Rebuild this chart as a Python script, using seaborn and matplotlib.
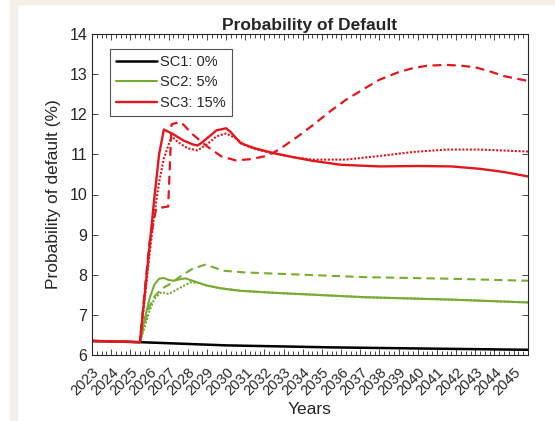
import numpy as np
import pandas as pd
import matplotlib
matplotlib.use("Agg")
import matplotlib.pyplot as plt
from matplotlib.ticker import MultipleLocator
from matplotlib.patches import Rectangle
import seaborn as sns

# ---- data (quarter index from 2023Q1, value in %) ----
black_q = [0, 10, 28, 50, 70, 91]
black_v = [6.35, 6.32, 6.24, 6.19, 6.16, 6.13]

g_solid_q = [0, 10, 11, 12, 13, 14, 15, 16, 17, 18, 19.5, 21, 24, 27, 31, 38, 57, 75, 91]
g_solid_v = [6.35, 6.32, 6.9, 7.4, 7.75, 7.9, 7.92, 7.87, 7.85, 7.88, 7.91, 7.85, 7.73, 7.66, 7.6, 7.55, 7.44, 7.38, 7.31]

g_dash_q = [0, 10, 11, 12, 13, 14.5, 16, 18.7, 21, 23.6, 25, 27.4, 31.6, 40, 57, 75, 91]
g_dash_v = [6.35, 6.32, 6.8, 7.2, 7.45, 7.65, 7.75, 7.98, 8.15, 8.25, 8.2, 8.1, 8.06, 8.02, 7.94, 7.9, 7.85]

g_dot_q = [0, 10, 11, 12, 13, 14.5, 16, 18, 20.5, 22, 24, 27, 31, 38, 57, 75, 91]
g_dot_v = [6.35, 6.32, 6.7, 7.1, 7.4, 7.57, 7.52, 7.65, 7.81, 7.8, 7.73, 7.66, 7.6, 7.55, 7.44, 7.38, 7.31]

r_solid_q = [0, 10, 11, 12, 13, 14, 15, 17, 19, 21, 22, 23, 24, 26, 28, 29, 31, 34, 38, 42, 46, 52, 60, 68, 75, 81, 86, 91]
r_solid_v = [6.35, 6.32, 7.5, 8.7, 9.9, 11.0, 11.62, 11.5, 11.35, 11.25, 11.22, 11.3, 11.4, 11.6, 11.65, 11.55,
             11.28, 11.15, 11.03, 10.93, 10.84, 10.74, 10.7, 10.71, 10.7, 10.64, 10.56, 10.45]

r_dash_q = [0, 10, 11, 12, 13.4, 15.9, 16.6, 18.4, 19, 21, 24, 27, 30, 33, 36, 38, 40, 43, 46, 50, 53, 57, 60,
            64, 67, 70, 74, 77, 80, 83, 86, 91]
r_dash_v = [6.35, 6.32, 7.6, 8.8, 9.65, 9.7, 11.75, 11.81, 11.75, 11.5, 11.2, 10.95, 10.85, 10.88, 10.95, 11.05,
            11.2, 11.45, 11.72, 12.1, 12.36, 12.65, 12.86, 13.05, 13.15, 13.21, 13.23, 13.21, 13.17, 13.07, 12.95, 12.83]

r_dot_q = [0, 10, 11, 12, 13, 14, 15, 16.6, 18, 20, 22, 24, 26, 28, 30, 32, 35, 38, 42, 46, 53, 60, 67, 74, 81, 91]
r_dot_v = [6.35, 6.32, 7.4, 8.5, 9.5, 10.3, 10.9, 11.45, 11.3, 11.15, 11.1, 11.25, 11.45, 11.52, 11.4, 11.22,
           11.1, 11.02, 10.93, 10.87, 10.87, 10.96, 11.06, 11.12, 11.12, 11.07]

year_labels = [str(y) for y in range(2023, 2046)]
legend_labels = ["SC1: 0%", "SC2: 5%", "SC3: 15%"]

BLACK = "#000000"
GREEN = "#77ac30"
RED = "#e3161d"

def to_year(q):
    return [2023 + v / 4.0 for v in q]

sns.set_style("white")
plt.rcParams["font.family"] = ["Liberation Sans", "DejaVu Sans"]

fig = plt.figure(figsize=(5.55, 4.21), dpi=100)
# beige frame strips of the original screenshot
fig.patches.append(Rectangle((10 / 555, 0), 7 / 555, 1 - 4 / 421, transform=fig.transFigure,
                             color="#f3f0e9", zorder=0))
fig.patches.append(Rectangle((10 / 555, 1 - 4 / 421), 1, 4 / 421, transform=fig.transFigure,
                             color="#f3f0e9", zorder=0))

ax = fig.add_axes([92 / 555, 1 - 355 / 421, 436 / 555, (355 - 34) / 421])

series = [
    (black_q, black_v, BLACK, "-", 1.8, legend_labels[0]),
    (g_dash_q, g_dash_v, GREEN, (0, (4, 2.5)), 1.5, None),
    (g_dot_q, g_dot_v, GREEN, (0, (1, 0.8)), 1.5, None),
    (g_solid_q, g_solid_v, GREEN, "-", 1.5, legend_labels[1]),
    (r_dash_q, r_dash_v, RED, (0, (4, 2.5)), 1.6, None),
    (r_dot_q, r_dot_v, RED, (0, (1, 0.8)), 1.5, None),
    (r_solid_q, r_solid_v, RED, "-", 1.7, legend_labels[2]),
]
handles = {}
for q, v, col, ls, lw, lab in series:
    df = pd.DataFrame({"Year": to_year(q), "PD": v})
    sns.lineplot(data=df, x="Year", y="PD", color=col, linestyle=ls, linewidth=lw, ax=ax,
                 sort=False, estimator=None)
    if lab is not None:
        handles[lab] = ax.lines[-1]

ax.set_xlim(2023, 2045.75)
ax.set_ylim(6, 14)
ax.set_xticks(list(range(2023, 2046)))
ax.set_xticklabels(year_labels, rotation=45, ha="right", rotation_mode="anchor", fontsize=10.5,
                   color="#262626")
ax.xaxis.set_minor_locator(MultipleLocator(0.25))
ax.set_yticks(range(6, 15))
ax.tick_params(axis="y", labelsize=11.5, colors="#262626", direction="in", length=4, width=0.6,
               left=True, right=True)
ax.tick_params(axis="x", which="major", direction="in", length=4, width=0.6, bottom=True, top=True,
               pad=7, colors="#262626")
ax.tick_params(axis="x", which="minor", direction="in", length=3, width=0.6, bottom=True, top=True,
               colors="#262626")
for lab in ax.get_xticklabels():
    lab.set_color("#262626")
for s in ax.spines.values():
    s.set_color("#262626")
    s.set_linewidth(0.8)

ax.set_xlabel("Years", fontsize=12.5, color="#262626", labelpad=3)
ax.set_ylabel("Probability of default (%)", fontsize=12.5, color="#262626", labelpad=6)
ax.set_title("Probability of Default", fontsize=12.5, fontweight="bold", pad=3)

leg = ax.legend([handles[l] for l in legend_labels], legend_labels, loc="upper left",
                bbox_to_anchor=(18 / 436, (355 - 49) / 321), borderaxespad=0.0,
                fontsize=10.5, frameon=True, fancybox=False, handlelength=2.8, handletextpad=0.25,
                borderpad=0.4, labelspacing=0.45)
leg.get_frame().set_edgecolor("#262626")
leg.get_frame().set_linewidth(0.8)

fig.savefig("out.png", dpi=100)
